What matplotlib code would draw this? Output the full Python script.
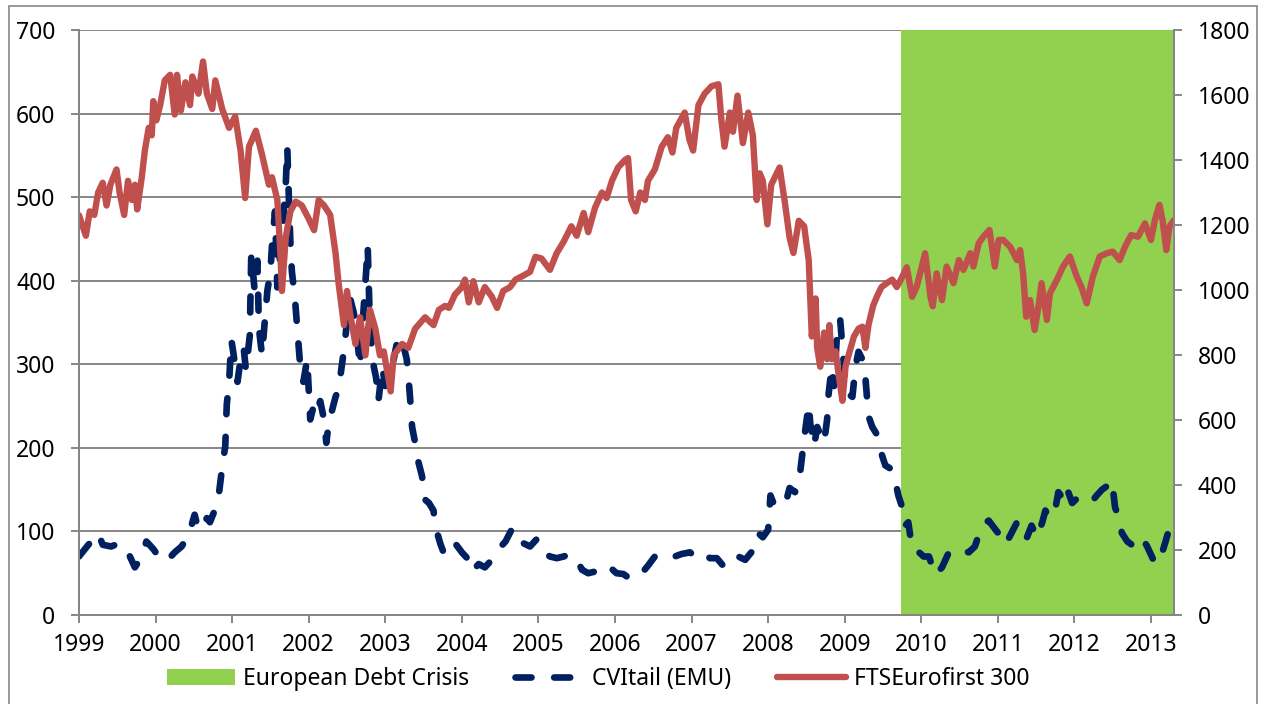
# CVItail (EMU) vs FTSEurofirst 300, European debt crisis shaded
import matplotlib as mpl
mpl.use('Agg')
import matplotlib.pyplot as plt
from matplotlib.patches import Rectangle

plt.rcParams['font.family'] = ['Noto Sans', 'DejaVu Sans']

# decimal years
cvi_years = [1999.00, 1999.14, 1999.25, 1999.31, 1999.42, 1999.53, 1999.64, 1999.73, 1999.82, 1999.88,
             1999.97, 2000.04, 2000.14, 2000.25, 2000.34, 2000.43, 2000.51, 2000.56, 2000.63, 2000.67,
             2000.71, 2000.78, 2000.83, 2000.87, 2000.91, 2000.93, 2000.96, 2000.99, 2001.02, 2001.07,
             2001.11, 2001.15, 2001.18, 2001.23, 2001.25, 2001.29, 2001.33, 2001.35, 2001.39, 2001.43,
             2001.46, 2001.50, 2001.52, 2001.56, 2001.59, 2001.63, 2001.66, 2001.70, 2001.72, 2001.74,
             2001.76, 2001.78, 2001.82, 2001.85, 2001.89, 2001.93, 2001.98, 2002.00, 2002.02, 2002.07,
             2002.11, 2002.15, 2002.20, 2002.23, 2002.26, 2002.30, 2002.35, 2002.39, 2002.43, 2002.47,
             2002.50, 2002.54, 2002.59, 2002.63, 2002.67, 2002.70, 2002.73, 2002.75, 2002.77, 2002.80,
             2002.85, 2002.88, 2002.91, 2002.96, 2003.00, 2003.04, 2003.11, 2003.17, 2003.22, 2003.28,
             2003.30, 2003.33, 2003.35, 2003.39, 2003.43, 2003.48, 2003.52, 2003.57, 2003.63, 2003.65,
             2003.72, 2003.76, 2003.83, 2003.91, 2004.00, 2004.07, 2004.13, 2004.22, 2004.30, 2004.39,
             2004.48, 2004.57, 2004.66, 2004.72, 2004.80, 2004.89, 2004.98, 2005.07, 2005.15, 2005.24,
             2005.33, 2005.41, 2005.50, 2005.57, 2005.65, 2005.74, 2005.83, 2005.91, 2006.02, 2006.11,
             2006.17, 2006.26, 2006.35, 2006.43, 2006.52, 2006.61, 2006.70, 2006.78, 2006.87, 2006.98,
             2007.04, 2007.13, 2007.24, 2007.33, 2007.43, 2007.52, 2007.61, 2007.70, 2007.78, 2007.87,
             2007.93, 2008.00, 2008.03, 2008.09, 2008.17, 2008.24, 2008.28, 2008.35, 2008.40, 2008.44,
             2008.49, 2008.53, 2008.55, 2008.60, 2008.64, 2008.68, 2008.73, 2008.77, 2008.79, 2008.83,
             2008.86, 2008.90, 2008.94, 2008.97, 2009.00, 2009.04, 2009.10, 2009.14, 2009.18, 2009.23,
             2009.27, 2009.31, 2009.36, 2009.42, 2009.48, 2009.53, 2009.60, 2009.66, 2009.70, 2009.75,
             2009.79, 2009.83, 2009.88, 2009.97, 2010.03, 2010.10, 2010.18, 2010.27, 2010.36, 2010.44,
             2010.53, 2010.62, 2010.70, 2010.79, 2010.88, 2010.97, 2011.03, 2011.10, 2011.16, 2011.25,
             2011.31, 2011.38, 2011.44, 2011.51, 2011.58, 2011.62, 2011.68, 2011.75, 2011.79, 2011.86,
             2011.90, 2011.97, 2012.05, 2012.14, 2012.23, 2012.29, 2012.36, 2012.42, 2012.49, 2012.53,
             2012.58, 2012.62, 2012.69, 2012.75, 2012.82, 2012.88, 2012.95, 2013.03, 2013.08, 2013.14,
             2013.19, 2013.25, 2013.30]
cvi_vals = [70, 86, 98, 84, 82, 86, 75, 57, 70, 88,
            79, 70, 64, 75, 82, 95, 120, 102, 109, 116,
            111, 127, 147, 177, 202, 252, 279, 329, 311, 279,
            306, 320, 293, 334, 433, 392, 424, 343, 311, 356,
            388, 411, 442, 483, 392, 433, 465, 515, 560, 501,
            447, 411, 379, 343, 297, 279, 306, 270, 234, 252,
            243, 256, 234, 206, 229, 243, 261, 270, 297, 324,
            352, 379, 361, 334, 297, 343, 383, 411, 442, 343,
            297, 284, 256, 297, 274, 288, 306, 334, 329, 306,
            288, 252, 225, 206, 184, 166, 138, 134, 125, 107,
            85, 75, 88, 86, 75, 68, 52, 61, 57, 66,
            79, 88, 104, 95, 86, 82, 91, 75, 70, 68,
            70, 73, 66, 54, 50, 52, 59, 59, 50, 49,
            45, 43, 50, 59, 70, 66, 68, 70, 73, 75,
            70, 75, 68, 68, 57, 61, 70, 66, 75, 98,
            93, 102, 143, 129, 134, 138, 152, 147, 157, 188,
            225, 252, 229, 202, 225, 216, 206, 234, 265, 297,
            274, 338, 354, 320, 288, 265, 261, 297, 315, 306,
            284, 238, 225, 216, 193, 179, 175, 161, 143, 129,
            107, 111, 79, 75, 70, 70, 48, 57, 75, 79,
            77, 75, 82, 107, 113, 102, 95, 84, 95, 111,
            93, 93, 107, 93, 111, 125, 116, 127, 147, 138,
            152, 134, 141, 136, 136, 143, 150, 154, 161, 129,
            116, 98, 88, 84, 93, 93, 82, 66, 61, 73,
            88, 107, 100]

fts_years = [1999.00, 1999.09, 1999.14, 1999.20, 1999.25, 1999.31, 1999.36, 1999.41, 1999.49, 1999.53,
             1999.59, 1999.64, 1999.69, 1999.73, 1999.76, 1999.82, 1999.86, 1999.91, 1999.95, 1999.97,
             2000.01, 2000.06, 2000.12, 2000.19, 2000.25, 2000.28, 2000.33, 2000.39, 2000.45, 2000.48,
             2000.56, 2000.62, 2000.67, 2000.74, 2000.78, 2000.87, 2000.96, 2001.04, 2001.11, 2001.17,
             2001.22, 2001.31, 2001.39, 2001.48, 2001.52, 2001.59, 2001.63, 2001.65, 2001.70, 2001.76,
             2001.83, 2001.91, 2002.00, 2002.07, 2002.13, 2002.20, 2002.28, 2002.35, 2002.39, 2002.46,
             2002.50, 2002.54, 2002.61, 2002.67, 2002.74, 2002.80, 2002.87, 2002.93, 2002.98, 2003.07,
             2003.11, 2003.22, 2003.30, 2003.39, 2003.52, 2003.63, 2003.70, 2003.78, 2003.83, 2003.91,
             2004.00, 2004.04, 2004.09, 2004.15, 2004.22, 2004.30, 2004.39, 2004.46, 2004.54, 2004.63,
             2004.70, 2004.80, 2004.89, 2004.96, 2005.04, 2005.15, 2005.24, 2005.33, 2005.43, 2005.50,
             2005.59, 2005.65, 2005.74, 2005.83, 2005.89, 2005.96, 2006.04, 2006.13, 2006.17, 2006.21,
             2006.27, 2006.33, 2006.39, 2006.43, 2006.52, 2006.61, 2006.69, 2006.75, 2006.80, 2006.91,
             2006.97, 2007.02, 2007.09, 2007.17, 2007.26, 2007.35, 2007.39, 2007.43, 2007.50, 2007.54,
             2007.60, 2007.67, 2007.74, 2007.80, 2007.85, 2007.89, 2007.93, 2007.99, 2008.04, 2008.15,
             2008.22, 2008.28, 2008.33, 2008.40, 2008.47, 2008.53, 2008.57, 2008.62, 2008.64, 2008.68,
             2008.73, 2008.77, 2008.80, 2008.83, 2008.88, 2008.92, 2008.97, 2009.01, 2009.05, 2009.12,
             2009.18, 2009.23, 2009.27, 2009.31, 2009.37, 2009.42, 2009.48, 2009.55, 2009.62, 2009.68,
             2009.75, 2009.81, 2009.88, 2009.94, 2010.05, 2010.12, 2010.15, 2010.20, 2010.27, 2010.33,
             2010.42, 2010.49, 2010.55, 2010.64, 2010.68, 2010.75, 2010.81, 2010.89, 2010.96, 2011.01,
             2011.07, 2011.16, 2011.25, 2011.29, 2011.33, 2011.37, 2011.42, 2011.48, 2011.53, 2011.57,
             2011.64, 2011.68, 2011.77, 2011.85, 2011.94, 2012.03, 2012.09, 2012.16, 2012.24, 2012.33,
             2012.42, 2012.50, 2012.59, 2012.66, 2012.74, 2012.83, 2012.92, 2013.00, 2013.05, 2013.11,
             2013.15, 2013.20, 2013.24, 2013.30]
fts_vals = [1230, 1167, 1242, 1231, 1300, 1330, 1260, 1324, 1371, 1300,
            1231, 1336, 1277, 1324, 1248, 1347, 1429, 1499, 1476, 1581,
            1522, 1569, 1645, 1662, 1540, 1662, 1552, 1639, 1569, 1657,
            1604, 1703, 1604, 1557, 1645, 1557, 1499, 1534, 1429, 1283,
            1441, 1490, 1417, 1324, 1347, 1277, 1114, 997, 1161, 1242,
            1272, 1260, 1219, 1184, 1277, 1260, 1231, 1114, 1021, 892,
            997, 927, 834, 916, 799, 939, 881, 799, 811, 688,
            799, 834, 822, 881, 916, 892, 939, 951, 945, 986,
            1009, 1032, 962, 1027, 962, 1009, 980, 945, 997, 1009,
            1032, 1044, 1056, 1102, 1097, 1062, 1114, 1149, 1196, 1167,
            1237, 1178, 1254, 1300, 1283, 1336, 1377, 1400, 1406, 1277,
            1242, 1300, 1277, 1336, 1371, 1441, 1470, 1423, 1499, 1546,
            1464, 1429, 1569, 1604, 1627, 1633, 1522, 1441, 1546, 1487,
            1598, 1452, 1546, 1476, 1277, 1359, 1336, 1202, 1324, 1377,
            1266, 1161, 1114, 1213, 1196, 1091, 857, 974, 822, 764,
            869, 787, 892, 787, 811, 741, 659, 764, 799, 857,
            881, 887, 822, 892, 951, 980, 1009, 1021, 1032, 1009,
            1040, 1070, 979, 1010, 1113, 979, 950, 1051, 969, 1072,
            1021, 1092, 1062, 1113, 1072, 1144, 1164, 1185, 1072, 1154,
            1154, 1133, 1092, 1123, 1051, 918, 969, 877, 949, 1021,
            908, 990, 1031, 1072, 1103, 1041, 1010, 959, 1041, 1103,
            1113, 1118, 1092, 1133, 1169, 1164, 1205, 1154, 1215, 1262,
            1215, 1123, 1195, 1215]

crisis_start = 2009.74
x_end = 2013.30
year_ticks = list(range(1999, 2014))

GRAY = '#868686'
fig = plt.figure(figsize=(12.61, 7.04), dpi=100)
ax = fig.add_axes([79/1261, 1-615/704, (1174-79)/1261, (615-30)/704])
ax2 = ax.twinx()

ax.set_axisbelow(True)
ax.grid(axis='y', color=GRAY, lw=1.4)
span = ax.axvspan(crisis_start, x_end, color='#92D050', lw=0, label='European Debt Crisis')
cvi, = ax.plot(cvi_years, cvi_vals, color='#002060', lw=4.8, dashes=(2.4, 3.4),
               dash_capstyle='round', label='CVItail (EMU)')
fts, = ax2.plot(fts_years, fts_vals, color='#C0504D', lw=4.6, solid_joinstyle='round',
                solid_capstyle='round', label='FTSEurofirst 300')

ax.set_xlim(1999, x_end)
ax.set_ylim(0, 700)
ax2.set_ylim(0, 1800)
ax.set_xticks(year_ticks)
ax.set_yticks(range(0, 701, 100))
ax2.set_yticks(range(0, 1801, 200))

for a in (ax, ax2):
    for s in a.spines.values():
        s.set_color(GRAY)
        s.set_linewidth(1.4)
    a.spines['top'].set_visible(False)
    a.tick_params(colors=GRAY, labelcolor='black', labelsize=16.5, length=6, width=1.4)
ax.tick_params(axis='y', pad=11)
ax2.tick_params(axis='y', pad=11)
ax.tick_params(axis='x', pad=7)

fig.legend([span, cvi, fts], [span.get_label(), cvi.get_label(), fts.get_label()],
           loc='center', bbox_to_anchor=(598/1261, 1-679/704), ncol=3, frameon=False,
           fontsize=16.5, handlelength=3.0, handletextpad=0.35, columnspacing=2.0,
           handleheight=0.65)

fig.patches.append(Rectangle((9/1261, -0.01), (1257-9)/1261, 1.01-6/704,
                             transform=fig.transFigure, fill=False, ec=GRAY, lw=1.2))

fig.savefig('out.png', dpi=100)
